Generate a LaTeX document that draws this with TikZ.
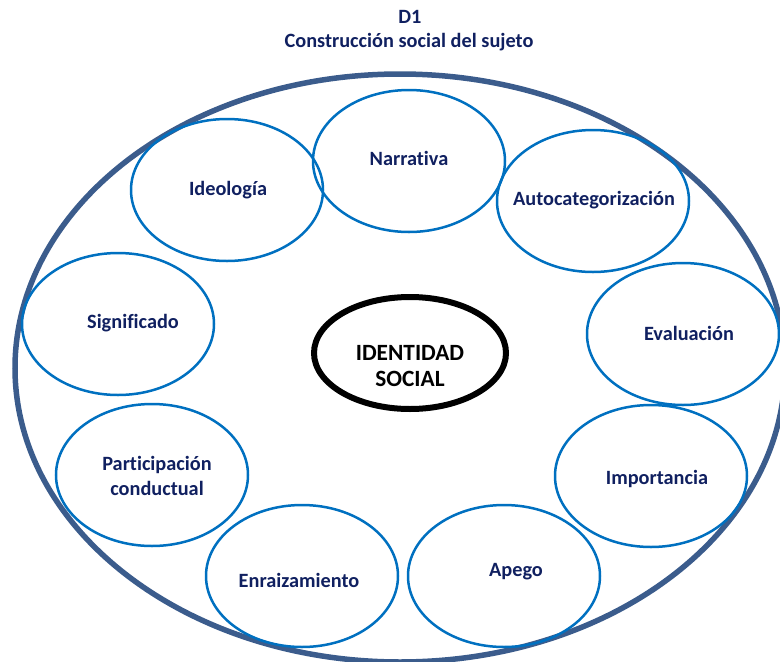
\documentclass[tikz,border=0pt]{standalone}
\usepackage{fontspec}
\setmainfont[Ligatures={NoCommon}]{Carlito}
\usetikzlibrary{shapes.geometric}
\definecolor{outerc}{RGB}{59,92,140}
\definecolor{innerc}{RGB}{0,112,192}
\definecolor{txtc}{RGB}{16,32,96}
\tikzset{
  outerell/.style={draw=outerc, line width=5.5pt, ellipse, minimum width=770pt, minimum height=588pt, inner sep=0pt},
  dim/.style={draw=innerc, line width=2.5pt, ellipse, minimum width=192pt, minimum height=142pt, inner sep=0pt},
  core/.style={draw=black, line width=6pt, ellipse, minimum width=192pt, minimum height=112pt, inner sep=0pt},
  lbl/.style={text=txtc, font=\fontsize{20.3}{25}\selectfont\bfseries, align=center, inner sep=0pt},
  corelbl/.style={text=black, font=\fontsize{23.3}{26}\selectfont\bfseries, align=center, inner sep=0pt},
  ttl/.style={text=txtc, font=\fontsize{20.3}{25}\selectfont\bfseries, inner sep=0pt}
}
\begin{document}
\begin{tikzpicture}[x=1pt,y=-1pt]
\useasboundingbox (0,0) rectangle (780,662);
\node[ttl] (t1) at (410,17) {D1};
\node[ttl] (t2) at (409,42) {Construcción social del sujeto};
\node[outerell] (outer) at (400,368) {};
\node[dim] (narr) at (409,161) {};
\node[dim] (ideo) at (227,190) {};
\node[dim] (auto) at (593,201) {};
\node[dim] (sign) at (118,324) {};
\node[dim] (eval) at (683,334) {};
\node[dim] (impo) at (651,476) {};
\node[dim] (part) at (152,475) {};
\node[dim] (enra) at (302,576) {};
\node[dim] (apeg) at (504,576) {};
\node[core] (core) at (410,353) {};
\node[lbl] (lnarr) at (409,158) {Narrativa};
\node[lbl] (lideo) at (228,190) {Ideología};
\node[lbl] (lauto) at (594,200) {Autocategorización};
\node[lbl] (lsign) at (133,323) {Significado};
\node[lbl] (leval) at (689,333) {Evaluación};
\node[lbl] (limpo) at (657,479) {Importancia};
\node[lbl] (lpart) at (157,476) {Participación\\conductual};
\node[lbl] (lenra) at (299,580) {Enraizamiento};
\node[lbl] (lapeg) at (516,572) {Apego};
\node[corelbl] (lcore) at (410,366) {IDENTIDAD\\SOCIAL};
\end{tikzpicture}
\end{document}
